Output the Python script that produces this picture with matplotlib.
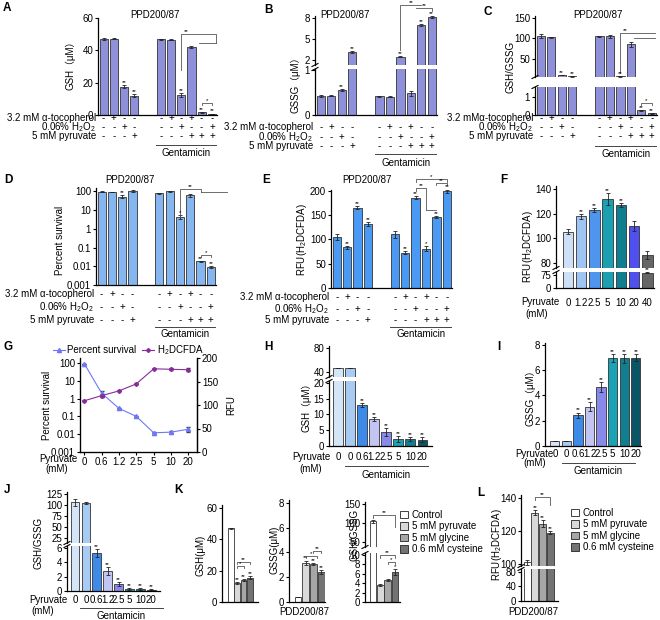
import matplotlib
matplotlib.use('Agg')
import matplotlib.pyplot as plt
import numpy as np
from matplotlib.transforms import blended_transform_factory
from matplotlib.lines import Line2D
from matplotlib.patches import Patch
from matplotlib.ticker import FixedLocator, NullLocator

plt.rcParams['font.family'] = ['Liberation Sans', 'Noto Sans CJK SC', 'DejaVu Sans']
plt.rcParams['mathtext.fontset'] = 'custom'
plt.rcParams['mathtext.rm'] = 'Liberation Sans'
plt.rcParams['mathtext.default'] = 'regular'
FS = 7

# ---- values ----
tocopherol = ['-', '+', '-', '-', '-', '+', '-', '+', '-', '-']
h2o2 = ['-', '-', '+', '-', '-', '-', '+', '-', '-', '+']
pyruvate = ['-', '-', '-', '+', '-', '-', '-', '+', '+', '+']

gsh_a = [47, 47.3, 17.5, 12, 47, 46.5, 12.3, 42, 1.7, 0.8]
gsh_a_err = [0.4, 0.4, 1.0, 0.8, 0.3, 0.4, 1.0, 0.8, 0.2, 0.1]
gsh_a_sig = ['', '', '**', '**', '', '', '**', '', '**', '**']

gssg_b = [0.42, 0.43, 0.55, 3.2, 0.42, 0.41, 2.5, 0.48, 7.0, 8.2]
gssg_b_err = [0.02, 0.01, 0.02, 0.15, 0.01, 0.01, 0.1, 0.05, 0.2, 0.15]
gssg_b_sig = ['', '', '**', '**', '', '', '**', '', '**', '**']

ratio_c = [106, 103, 10, 7, 105, 105, 7, 85, 0.25, 0.1]
ratio_c_err = [5, 1, 1, 1, 2, 3, 1, 7, 0.03, 0.03]
ratio_c_sig = ['', '', '**', '**', '', '', '**', '', '**', '**']

surv_d = [95, 92, 52, 105, 78, 100, 4.2, 62, 0.018, 0.0095]
surv_d_err = [5, 4, 8, 10, 4, 5, 1, 10, 0.002, 0.001]
surv_d_sig = ['', '', '**', '', '', '', '*', '', '**', '**']

rfu_e = [105, 84, 165, 132, 111, 73, 186, 81, 146, 199]
rfu_e_err = [7, 3, 3, 4, 7, 3, 3, 5, 2, 4]
rfu_e_sig = ['', '**', '**', '**', '', '**', '**', '*', '**', '**']

pyr_f = ['0', '1.2', '2.5', '5', '10', '20', '40']
rfu_f = [105.5, 118, 123, 132, 127, 110, 86.5]
rfu_f_err = [2, 2, 1.5, 5, 1.5, 4, 3]
rfu_f_sig = ['', '**', '**', '**', '**', '', '**']

pyr_g = ['0', '0.6', '1.2', '2.5', '5', '10', '20']
surv_g = [90, 2.0, 0.28, 0.1, 0.012, 0.013, 0.019]
surv_g_err = [0, 0.8, 0.03, 0.01, 0.001, 0.002, 0.005]
rfu_g = [109, 120, 130, 145, 177, 176, 175]
rfu_g_err = [1, 2, 1, 1, 1, 2, 3]

pyr_hij = ['0', '0', '0.6', '1.2', '2.5', '5', '10', '20']
gsh_h = [47, 47, 13, 8.5, 4.5, 2.2, 2.2, 2.0]
gsh_h_err = [0.3, 0.3, 0.5, 0.7, 1.2, 0.9, 0.6, 0.7]
gssg_i = [0.4, 0.4, 2.45, 3.1, 4.65, 6.95, 6.95, 7.0]
gssg_i_err = [0.03, 0.03, 0.2, 0.35, 0.4, 0.3, 0.35, 0.3]
ratio_j = [106, 105, 5.3, 2.8, 1.0, 0.25, 0.25, 0.2]
ratio_j_err = [8, 2, 0.5, 0.5, 0.3, 0.1, 0.1, 0.1]
hij_sig = ['', '', '**', '**', '**', '**', '**', '**']

k_groups = ['Control', '5 mM pyruvate', '5 mM glycine', '0.6 mM cysteine']
gsh_k = [47, 12, 14, 15.5]
gsh_k_err = [0.5, 0.8, 0.8, 0.8]
gssg_k = [0.4, 3.15, 3.05, 2.4]
gssg_k_err = [0.02, 0.2, 0.1, 0.15]
ratio_k = [104, 3.7, 4.6, 6.4]
ratio_k_err = [3, 0.2, 0.2, 0.6]
rfu_l = [101, 131, 124.5, 119]
rfu_l_err = [1.5, 1.5, 2, 1]
k_sig = ['', '**', '**', '**']

W, H = 660, 620
fig = plt.figure(figsize=(6.6, 6.2), dpi=100)
EDGE = '#333333'
ABC_COL = '#8e91d9'
HIJ_COL = ['#d4e5f8', '#a8cbf3', '#3d8ae8', '#c4c4f2', '#8989ec', '#1aa2b5', '#117f8f', '#0b5566']
F_COL = ['#cde0f6', '#9fc5f3', '#4f95ee', '#1aa0b0', '#0f7f8f', '#5050ee', '#666666']
K_COL = ['white', '#d9d9d9', '#a6a6a6', '#737373']


def fx(x):
    return x / W


def fy(y):
    return 1 - y / H


def box(x0, y0, x1, y1):
    return fig.add_axes([fx(x0), fy(y1), (x1 - x0) / W, (y1 - y0) / H])


def clean(ax, top=False, bottom=True):
    ax.spines['right'].set_visible(False)
    ax.spines['top'].set_visible(top)
    ax.spines['bottom'].set_visible(bottom)
    for s in ax.spines.values():
        s.set_linewidth(0.9)
    ax.tick_params(labelsize=FS, length=2.5, width=0.8, pad=1)
    ax.patch.set_alpha(0)


def bars(axs, pos, vals, errs, cols, stars, split=None, log=False, w=0.8):
    base = 1e-3 if log else 0
    for ax in axs:
        ax.bar(pos, np.array(vals) - base, bottom=base, width=w, color=cols,
               edgecolor=EDGE, linewidth=0.6)
        ax.errorbar(pos, vals, yerr=errs, fmt='none', ecolor='#222222',
                    elinewidth=0.6, capsize=1.5, capthick=0.6)
    for x, v, e, s in zip(pos, vals, errs, stars):
        if not s:
            continue
        ax = axs[0]
        if split is not None and v + e < split:
            ax = axs[1]
        ax.annotate(s, (x, v + e), xytext=(0, 0), textcoords='offset points',
                    ha='center', va='bottom', fontsize=4.5, annotation_clip=False)


def bracket(ax, x1, x2, y, txt, d1=3, d2=3, tx=None):
    tr = blended_transform_factory(ax.transData, fig.transFigure)
    ax.plot([x1, x1, x2, x2], [fy(y + d1), fy(y), fy(y), fy(y + d2)],
            transform=tr, color='#555555', lw=0.6, clip_on=False)
    if txt:
        ax.text((x1 + x2) / 2 if tx is None else tx, fy(y - 0.3), txt, transform=tr,
                ha='center', va='bottom', fontsize=4.5)


def hline(ax, x1, x2, y):
    tr = blended_transform_factory(ax.transData, fig.transFigure)
    ax.plot([x1, x2], [fy(y), fy(y)], transform=tr, color='#555555', lw=0.6, clip_on=False)


def signs(ax, pos, rows, labels, ys, gy, ty):
    tr = blended_transform_factory(ax.transData, fig.transFigure)
    for lab, row, y in zip(labels, rows, ys):
        ax.text(pos[0] - 0.75, fy(y), lab, transform=tr, ha='right', va='center', fontsize=FS)
        for x, s in zip(pos, row):
            ax.text(x, fy(y), s, transform=tr, ha='center', va='center', fontsize=FS)
    x1, x2 = pos[4] - 0.45, pos[-1] + 0.45
    ax.plot([x1, x2], [fy(gy)] * 2, transform=tr, color='#444444', lw=0.7, clip_on=False)
    ax.text((x1 + x2) / 2, fy(ty), 'Gentamicin', transform=tr, ha='center', va='center', fontsize=FS)


def gent(x1, x2, gy, ty):
    fig.add_artist(Line2D([fx(x1), fx(x2)], [fy(gy)] * 2, transform=fig.transFigure,
                          color='#444444', lw=0.7))
    fig.text(fx((x1 + x2) / 2), fy(ty), 'Gentamicin', ha='center', va='center', fontsize=FS)


def brk(x, y1, y2):
    for y in (y1, y2):
        fig.add_artist(Line2D([fx(x - 3), fx(x + 3)], [fy(y + 1.5), fy(y - 1.5)],
                              transform=fig.transFigure, color='k', lw=0.8))


def ylab(x, y, s):
    fig.text(fx(x), fy(y), s, rotation=90, ha='center', va='center', fontsize=FS)


def plab(x, y, s):
    fig.text(fx(x), fy(y), s, ha='left', va='center', fontsize=8.5, fontweight='bold')


def split_axes(upper, lower, uylim, lylim, uticks, lticks, xlim):
    au = box(*upper)
    al = box(*lower)
    clean(au, bottom=False)
    clean(al)
    au.set_ylim(*uylim)
    al.set_ylim(*lylim)
    au.set_yticks(uticks)
    al.set_yticks(lticks)
    for a in (au, al):
        a.set_xlim(*xlim)
        a.set_xticks([])
    brk(upper[0], upper[3], lower[1])
    return au, al


pos10 = np.array([0, 1, 2, 3, 5.6, 6.6, 7.6, 8.6, 9.6, 10.6])
xl10 = (-0.55, 11.1)
row_labels = ['3.2 mM α-tocopherol', '0.06% H$_2$O$_2$', '5 mM pyruvate']
rows3 = [tocopherol, h2o2, pyruvate]

# ---- A ----
axA = box(98, 18, 217, 115)
clean(axA)
axA.set_ylim(0, 60)
axA.set_yticks([0, 20, 40, 60])
axA.set_xlim(*xl10)
axA.set_xticks([])
bars([axA], pos10, gsh_a, gsh_a_err, ABC_COL, gsh_a_sig)
signs(axA, pos10, rows3, row_labels, [118, 127, 136], 145, 153)
bracket(axA, pos10[6], pos10[9] + 0.4, 34, '**', d1=36, d2=9, tx=pos10[6] + 0.5)
hline(axA, pos10[8] - 0.3, pos10[9] + 0.4, 43)
bracket(axA, pos10[8], pos10[9], 103, '*', d1=2, d2=2)
ylab(70, 63, 'GSH（μM）')
fig.text(fx(155), fy(15), 'PPD200/87', ha='center', va='center', fontsize=FS)
plab(3, 8, 'A')

# ---- B ----
auB, alB = split_axes((315, 16, 437, 65), (315, 69, 437, 115), (1.29, 8.29), (0, 1.02),
                      [2, 5, 8], [0, 1], xl10)
bars([auB, alB], pos10, gssg_b, gssg_b_err, ABC_COL, gssg_b_sig, split=1.02)
signs(alB, pos10, rows3, row_labels, [127, 137, 146], 154, 163)
bracket(auB, pos10[6], pos10[8], 5, '**', d1=45, d2=0)
bracket(auB, pos10[7] + 0.5, pos10[9], 8, '**', d1=0, d2=3)
ylab(295, 82, 'GSSG（μM）')
fig.text(fx(345), fy(15), 'PPD200/87', ha='center', va='center', fontsize=FS)
plab(264, 10, 'B')

# ---- C ----
auC, alC = split_axes((535, 16, 657, 77), (535, 87, 657, 115), (5, 155), (0, 1.55),
                      [50, 100, 150], [0, 1], xl10)
bars([auC, alC], pos10, ratio_c, ratio_c_err, ABC_COL, ratio_c_sig, split=1.55)
signs(alC, pos10, rows3, ['3.2 mMα-tocopherol'] + row_labels[1:], [118, 127, 136], 146, 154)
bracket(auC, pos10[6], pos10[9] + 0.3, 33, '**', d1=40, d2=0, tx=pos10[6] + 0.5)
hline(auC, pos10[7] + 0.3, pos10[9] + 0.3, 38)
bracket(alC, pos10[8], pos10[9], 103, '*', d1=2, d2=2)
ylab(510, 67, 'GSH/GSSG')
fig.text(fx(598), fy(15), 'PPD200/87', ha='center', va='center', fontsize=FS)
plab(484, 12, 'C')

# ---- D ----
axD = box(96, 188, 216, 285)
clean(axD)
axD.set_yscale('log')
axD.set_ylim(0.001, 150)
axD.yaxis.set_major_locator(FixedLocator([0.001, 0.01, 0.1, 1, 10, 100]))
axD.yaxis.set_minor_locator(NullLocator())
axD.set_yticklabels(['0.001', '0.01', '0.1', '1', '10', '100'])
axD.set_xlim(*xl10)
axD.set_xticks([])
bars([axD], pos10, surv_d, surv_d_err, '#86b6f0', surv_d_sig, log=True)
signs(axD, pos10, rows3, row_labels, [294, 307, 320], 327, 334)
bracket(axD, pos10[6], pos10[8], 189, '**', d1=28, d2=3)
hline(axD, pos10[8], pos10[9] + 1.6, 192)
bracket(axD, pos10[8], pos10[9], 255, '*', d1=2, d2=2)
ylab(60, 240, 'Percent survival')
fig.text(fx(130), fy(180), 'PPD200/87', ha='center', va='center', fontsize=FS)
plab(4, 180, 'D')

# ---- E ----
axE = box(331, 190, 452, 288)
clean(axE)
axE.set_ylim(0, 202)
axE.set_yticks([0, 50, 100, 150, 200])
axE.set_xlim(*xl10)
axE.set_xticks([])
bars([axE], pos10, rfu_e, rfu_e_err, '#4a9af3', rfu_e_sig)
signs(axE, pos10, rows3, row_labels, [297, 309, 320], 327, 334)
bracket(axE, pos10[6], pos10[9], 179, '*', d1=3, d2=3)
bracket(axE, pos10[6], pos10[7], 188, '**', d1=3, d2=22)
hline(axE, pos10[7], pos10[8], 210)
bracket(axE, pos10[8], pos10[9], 183, '**', d1=2, d2=2)
ylab(302, 240, 'RFU(H$_2$DCFDA)')
fig.text(fx(367), fy(180), 'PPD200/87', ha='center', va='center', fontsize=FS)
plab(262, 180, 'E')

# ---- F ----
xf = np.arange(len(pyr_f))
auF, alF = split_axes((556, 186, 654, 268), (556, 272, 654, 288), (76, 142.4), (0, 90),
                      [80, 100, 120, 140], [0, 75], (-0.9, 6.5))
bars([auF, alF], xf, rfu_f, rfu_f_err, F_COL, rfu_f_sig, split=90)
alF.set_xticks(xf)
alF.set_xticklabels(pyr_f)
alF.tick_params(axis='x', length=0, pad=7)
fig.text(fx(559), fy(302), 'Pyruvate', ha='right', va='center', fontsize=FS)
fig.text(fx(537), fy(314), '(mM)', ha='center', va='center', fontsize=FS)
ylab(528, 247, 'RFU(H$_2$DCFDA)')
plab(500, 180, 'F')

# ---- G ----
xg = np.arange(len(pyr_g))
axG = box(80, 358, 197, 452)
clean(axG)
axG.spines['right'].set_visible(True)
axG.set_yscale('log')
axG.set_ylim(0.001, 190)
axG.yaxis.set_major_locator(FixedLocator([0.001, 0.01, 0.1, 1, 10, 100]))
axG.yaxis.set_minor_locator(NullLocator())
axG.set_yticklabels(['0.001', '0.01', '0.1', '1', '10', '100'])
axG.set_xlim(-0.25, 6.5)
axG.set_xticks(xg)
axG.set_xticklabels(pyr_g)
axG.errorbar(xg, surv_g, yerr=surv_g_err, color='#6e78f7', marker='^', ms=3, lw=0.8,
             elinewidth=0.6, capsize=1.5, ecolor='#333333')
axR = axG.twinx()
axR.spines['top'].set_visible(False)
axR.spines['right'].set_linewidth(0.9)
axR.set_ylim(0, 200)
axR.set_yticks([0, 50, 100, 150, 200])
axR.tick_params(labelsize=FS, length=2.5, width=0.8, pad=1)
axR.errorbar(xg, rfu_g, yerr=rfu_g_err, color='#8a2b9c', marker='D', ms=2, lw=0.8,
             elinewidth=0.6, capsize=1.5, ecolor='#333333')
fig.legend([Line2D([], [], color='#6e78f7', marker='^', ms=3, lw=0.8),
            Line2D([], [], color='#8a2b9c', marker='D', ms=2, lw=0.8)],
           ['Percent survival', 'H$_2$DCFDA'], loc='center left',
           bbox_to_anchor=(fx(48), fy(350)), ncol=2, frameon=False, fontsize=FS,
           handlelength=1.2, handletextpad=0.3, columnspacing=0.6, borderpad=0)
fig.text(fx(77), fy(459), 'Pyruvate', ha='right', va='center', fontsize=FS)
fig.text(fx(57), fy(469), '(mM)', ha='center', va='center', fontsize=FS)
ylab(47, 405, 'Percent survival')
ylab(231, 405, 'RFU')
plab(4, 347, 'G')

# ---- H ----
x8 = np.arange(8)
auH, alH = split_axes((329, 346, 432, 377), (329, 381, 432, 446), (31.7, 83.3), (0, 20.6),
                      [40, 80], [0, 5, 10, 15, 20], (-0.75, 7.8))
bars([auH, alH], x8, gsh_h, gsh_h_err, HIJ_COL, hij_sig, split=20.6)
alH.set_xticks(x8)
alH.set_xticklabels(pyr_hij)
alH.tick_params(axis='x', length=0, pad=4)
fig.text(fx(331), fy(457), 'Pyruvate', ha='right', va='center', fontsize=FS)
fig.text(fx(311), fy(469), '(mM)', ha='center', va='center', fontsize=FS)
gent(345, 428, 466, 475)
ylab(306, 405, 'GSH（μM）')
plab(264, 347, 'H')

# ---- I ----
axI = box(545, 343, 641, 446)
clean(axI)
axI.set_ylim(0, 8.15)
axI.set_yticks([0, 2, 4, 6, 8])
axI.set_xlim(-0.85, 7.45)
bars([axI], x8, gssg_i, gssg_i_err, HIJ_COL, hij_sig)
axI.set_xticks(x8)
axI.set_xticklabels(pyr_hij)
axI.tick_params(axis='x', length=0, pad=2)
fig.text(fx(553), fy(454), 'Pyruvate', ha='right', va='center', fontsize=FS)
fig.text(fx(535), fy(463), '(mM)', ha='center', va='center', fontsize=FS)
gent(562, 635, 463, 471)
ylab(530, 395, 'GSSG（μM）')
plab(497, 347, 'I')

# ---- J ----
auJ, alJ = split_axes((67, 492, 160, 543), (67, 546, 160, 591), (13.6, 129.5), (0, 6.28),
                      [25, 50, 75, 100, 125], [0, 2, 4, 6], (-0.73, 7.8))
bars([auJ, alJ], x8, ratio_j, ratio_j_err, HIJ_COL, hij_sig, split=6.28)
alJ.set_xticks(x8)
alJ.set_xticklabels(pyr_hij)
alJ.tick_params(axis='x', length=0, pad=3)
fig.text(fx(67), fy(600), 'Pyruvate', ha='right', va='center', fontsize=FS)
fig.text(fx(43), fy(611), '(mM)', ha='center', va='center', fontsize=FS)
gent(80, 163, 608, 616)
ylab(38, 543, 'GSH/GSSG')
plab(4, 490, 'J')

# ---- K ----
x4 = np.arange(4)
axK1 = box(222, 505, 258, 602)
clean(axK1)
axK1.set_ylim(0, 61.9)
axK1.set_yticks([0, 20, 40, 60])
axK1.set_xlim(-1.43, 4.3)
axK1.set_xticks([])
bars([axK1], x4, gsh_k, gsh_k_err, K_COL, k_sig, w=0.9)
bracket(axK1, 1, 3, 562, '**', d1=2, d2=2)
bracket(axK1, 1, 2, 566, '*', d1=2, d2=2)
ylab(200, 555, 'GSH(μM)')

axK2 = box(289, 500, 325, 602)
clean(axK2)
axK2.set_ylim(0, 8.24)
axK2.set_yticks([0, 2, 4, 6, 8])
axK2.set_xlim(-1.17, 3.5)
axK2.set_xticks([])
bars([axK2], x4, gssg_k, gssg_k_err, K_COL, k_sig, w=0.9)
bracket(axK2, 1, 2.4, 556, '*', d1=2, d2=2)
bracket(axK2, 2, 3, 551, '**', d1=2, d2=2)
fig.text(fx(304), fy(612), 'PDD200/87', ha='center', va='center', fontsize=FS)
ylab(275, 550, 'GSSG(μM)')

auK3, alK3 = split_axes((365, 502, 400, 547), (365, 553, 400, 602), (37, 155), (0, 10.4),
                        [50, 100, 150], [0, 2, 4, 6, 8, 10], (-1.1, 3.7))
bars([auK3, alK3], x4, ratio_k, ratio_k_err, K_COL, ['', '', '', '*'], split=10.4, w=0.9)
bracket(auK3, 0, 3, 515, '**', d1=3, d2=12)
bracket(alK3, 1, 3, 555, '**', d1=3, d2=3)
bracket(alK3, 2, 3, 562, '*', d1=2, d2=2)
ylab(354, 535, 'GSH/GSSG')
plab(174, 490, 'K')

k_handles = [Patch(facecolor=c, edgecolor='#222222', linewidth=0.6) for c in K_COL]
fig.legend(k_handles, k_groups, loc='upper left', bbox_to_anchor=(fx(395), fy(505)),
           frameon=False, fontsize=FS, handlelength=0.8, handleheight=0.8,
           handletextpad=0.4, labelspacing=0.15, borderpad=0)

# ---- L ----
auL, alL = split_axes((521, 495, 558, 566), (521, 569, 558, 601), (98.8, 141.8), (0, 88),
                      [100, 120, 140], [0, 40, 80], (-0.8, 4.0))
bars([auL, alL], x4, rfu_l, rfu_l_err, K_COL, k_sig, split=88, w=0.9)
bracket(auL, 1, 3, 497, '**', d1=3, d2=8)
fig.text(fx(533), fy(612), 'PDD200/87', ha='center', va='center', fontsize=FS)
ylab(497, 545, 'RFU(H$_2$DCFDA)')
plab(477, 493, 'L')
fig.legend(k_handles, k_groups, loc='upper left', bbox_to_anchor=(fx(566), fy(503)),
           frameon=False, fontsize=FS, handlelength=0.8, handleheight=0.8,
           handletextpad=0.4, labelspacing=0.15, borderpad=0)

fig.savefig('out.png', dpi=100)
